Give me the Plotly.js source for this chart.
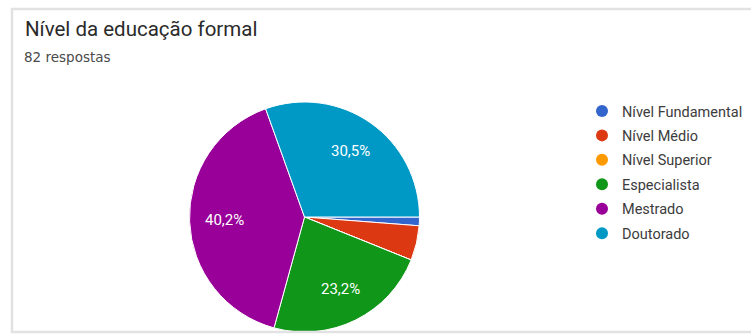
<!DOCTYPE html>
<html>
<head>
<meta charset="utf-8">
<script src="https://cdn.plot.ly/plotly-3.0.1.min.js"></script>
<style>html,body{margin:0;padding:0;background:#fff;}#chart{width:751px;height:334px;}</style>
</head>
<body>
<div id="chart"></div>
<script>
const categories = ["Nível Fundamental", "Nível Médio", "Nível Superior", "Especialista", "Mestrado", "Doutorado"];
const responses = [1, 4, 0, 19, 33, 25];
const colors = ["#3366cc", "#dc3912", "#ff9900", "#109618", "#990099", "#0099c6"];
const chartTitle = "Nível da educação formal";
const subtitle = "82 respostas";

const W = 751, H = 334;
const domX = [189 / W, 420 / W];
const domY = [2 / H, 232 / H];
const startAngle = 90;

const total = responses.reduce((a, b) => a + b, 0);

const traces = [{
  type: "pie",
  labels: categories,
  values: responses,
  sort: false,
  direction: "clockwise",
  rotation: startAngle,
  marker: { colors: colors, line: { color: "#ffffff", width: 1 } },
  textinfo: "none",
  hoverinfo: "none",
  showlegend: false,
  domain: { x: domX, y: domY }
}];

categories.forEach((c, i) => {
  traces.push({
    type: "scatter",
    mode: "markers",
    x: [null], y: [null],
    name: c,
    legendgroup: "g" + i,
    marker: { symbol: "circle", size: 12, color: colors[i] },
    showlegend: true,
    hoverinfo: "none"
  });
});

// percent labels placed along each slice's bisector (Google-chart style), derived from the data
const cxPx = (domX[0] + domX[1]) / 2 * W;
const cyPx = H - (domY[0] + domY[1]) / 2 * H;
const R = Math.min((domX[1] - domX[0]) * W, (domY[1] - domY[0]) * H) / 2;
const labelAnns = [];
let cum = 0;
responses.forEach((v, i) => {
  const frac = v / total;
  if (frac >= 0.1) {
    const ang = (startAngle + (cum + frac / 2) * 360) * Math.PI / 180;
    const px = cxPx + 0.7 * R * Math.sin(ang);
    const py = cyPx - 0.7 * R * Math.cos(ang);
    labelAnns.push({
      text: (frac * 100).toFixed(1).replace(".", ",") + "%",
      xref: "paper", yref: "paper", x: px / W, y: 1 - py / H,
      xanchor: "center", yanchor: "middle", showarrow: false,
      font: { family: "Roboto, Arial, sans-serif", size: 15, color: "#ffffff" }
    });
  }
  cum += frac;
});

const layout = {
  width: W, height: H,
  margin: { l: 0, r: 0, t: 0, b: 0 },
  paper_bgcolor: "#ffffff",
  plot_bgcolor: "#ffffff",
  separators: ",.",
  xaxis: { visible: false },
  yaxis: { visible: false },
  showlegend: true,
  legend: {
    x: 582 / W, y: 1 - 95 / H, xanchor: "left", yanchor: "top",
    font: { family: "Roboto, Arial, sans-serif", size: 14.5, color: "#3c3c3c" },
    itemwidth: 30,
    tracegroupgap: 2.6,
    bgcolor: "rgba(0,0,0,0)"
  },
  annotations: [
    { text: chartTitle, xref: "paper", yref: "paper", x: 23 / W, y: 1 - 15 / H, xanchor: "left", yanchor: "top",
      showarrow: false, font: { family: "Roboto, Arial, sans-serif", size: 20.5, color: "#2a2a2a" } },
    { text: subtitle, xref: "paper", yref: "paper", x: 22 / W, y: 1 - 47 / H, xanchor: "left", yanchor: "top",
      showarrow: false, font: { family: "DejaVu Sans, sans-serif", size: 13.5, color: "#4a4a4a" } }
  ].concat(labelAnns),
  shapes: [
    { type: "rect", xref: "paper", yref: "paper", x0: 12 / W, x1: 1.01, y0: 1 - 332 / H, y1: 1 - 9 / H,
      line: { color: "#e2e2e2", width: 2.5 }, fillcolor: "rgba(0,0,0,0)" }
  ]
};

Plotly.newPlot("chart", traces, layout, { staticPlot: true, displayModeBar: false });
</script>
</body>
</html>
